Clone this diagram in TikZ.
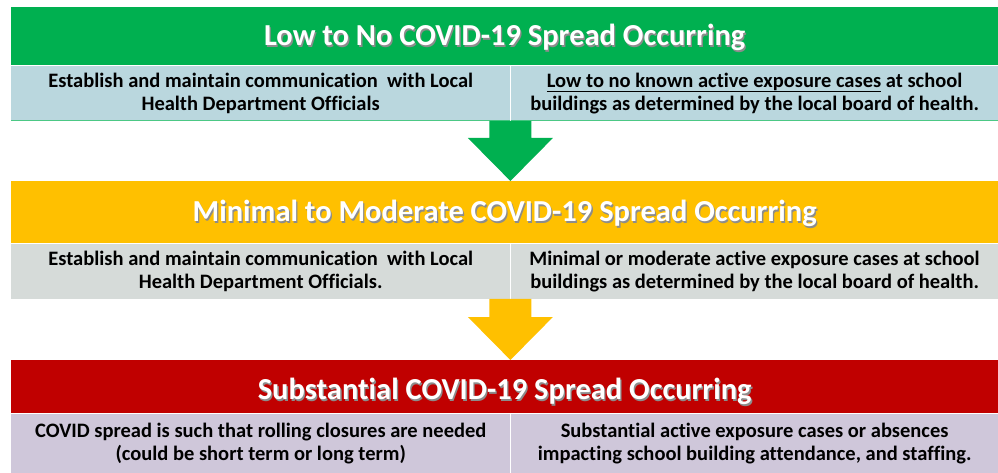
\documentclass[tikz,border=0pt]{standalone}
\usepackage{fontspec}
\setmainfont{Carlito}[Ligatures=NoCommon]
\usetikzlibrary{positioning,calc}

\definecolor{lvgreen}{RGB}{0,176,80}
\definecolor{lvyellow}{RGB}{255,192,0}
\definecolor{lvred}{RGB}{192,0,0}
\definecolor{rowblue}{RGB}{186,215,222}
\definecolor{rowgray}{RGB}{214,219,217}
\definecolor{rowlilac}{RGB}{207,199,218}

% white title text with a small drop shadow
\newcommand{\shtext}[1]{\makebox[0pt][l]{\hspace{1.3pt}\raisebox{-1.3pt}{\color{black!45}#1}}#1}

\begin{document}
\begin{tikzpicture}[x=1pt,y=-1pt,
    header/.style={minimum width=987pt, inner sep=0pt, text=white,
      text height=19.5pt, text depth=0pt,
      font=\bfseries\fontsize{30.5}{34}\selectfont},
    cell/.style={inner sep=0pt, align=center,
      font=\bfseries\fontsize{20.5}{23}\selectfont},
    blockarrow/.style={fill=#1, to path={
      let \p1=(\tikztostart), \p2=(\tikztotarget) in
      (\x1-21pt,\y1) -- (\x1+21pt,\y1) -- (\x1+21pt,\y2+43pt) -- (\x1+42.5pt,\y2+43pt)
      -- (\x1,\y2) -- (\x1-42.5pt,\y2+43pt) -- (\x1-21pt,\y2+43pt) -- cycle}}]
  \useasboundingbox (0,0) rectangle (998,473);

  % level 1
  \node[header, fill=lvgreen, minimum height=58pt, anchor=north west] (h1) at (11,7)
    {\shtext{Low to No COVID-19 Spread Occurring}};
  \node[cell, fill=rowblue, minimum width=499pt, minimum height=55pt, anchor=north west] (l1) at (h1.south west)
    {Establish and maintain communication\ \ with Local\\Health Department Officials};
  \node[cell, fill=rowblue, minimum width=488pt, minimum height=55pt, anchor=north west] (r1) at (l1.north east)
    {\underline{Low to no known active exposure cases} at school\\buildings as determined by the local board of health.};
  \draw[lvgreen!70, line width=0.8pt] (l1.south west) -- (r1.south east);
  \draw[white, line width=0.8pt] (l1.north east) -- (l1.south east);

  % level 2
  \node[header, fill=lvyellow, minimum height=62pt, anchor=north west] (h2) at (11,181)
    {\shtext{Minimal to Moderate COVID-19 Spread Occurring}};
  \node[cell, fill=rowgray, minimum width=499pt, minimum height=55pt, anchor=north west] (l2) at (h2.south west)
    {Establish and maintain communication\ \ with Local\\Health Department Officials.};
  \node[cell, fill=rowgray, minimum width=488pt, minimum height=55pt, anchor=north west] (r2) at (l2.north east)
    {Minimal or moderate active exposure cases at school\\buildings as determined by the local board of health.};
  \draw[white, line width=0.8pt] (l2.north east) -- (l2.south east);

  % level 3
  \node[header, fill=lvred, minimum height=53pt, text height=26.5pt, anchor=north west] (h3) at (11,360)
    {\shtext{Substantial COVID-19 Spread Occurring}};
  \node[cell, fill=rowlilac, minimum width=499pt, minimum height=60pt, anchor=north west] (l3) at (h3.south west)
    {COVID spread is such that rolling closures are needed\\(could be short term or long term)};
  \node[cell, fill=rowlilac, minimum width=488pt, minimum height=60pt, anchor=north west] (r3) at (l3.north east)
    {Substantial active exposure cases or absences\\impacting school building attendance, and staffing.};
  \draw[white, line width=0.8pt] (l3.north east) -- (l3.south east);

  % arrows between levels
  \path[blockarrow=lvgreen] (l1.south east) to (h2.north);
  \path[blockarrow=lvyellow] (l2.south east) to (h3.north);
\end{tikzpicture}
\end{document}
